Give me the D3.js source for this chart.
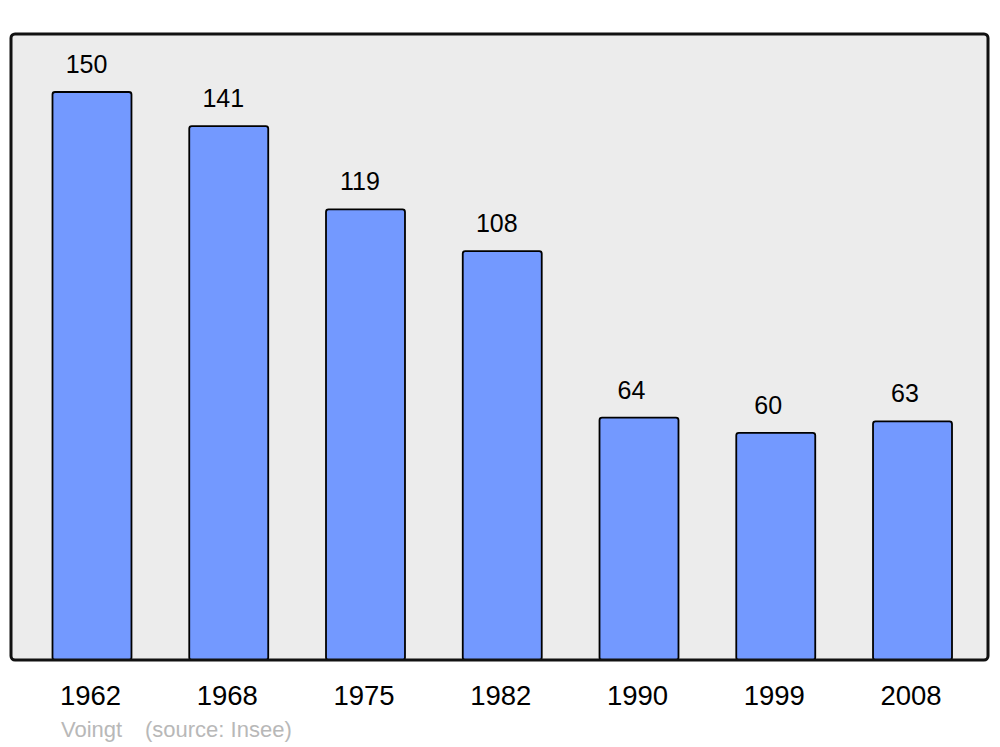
<!DOCTYPE html>
<html>
<head>
<meta charset="utf-8">
<script src="https://cdn.jsdelivr.net/npm/d3@7"></script>
<style>
  html, body { margin: 0; padding: 0; background: #fff; }
  svg { display: block; font-family: "Liberation Sans", Arial, sans-serif; }
</style>
</head>
<body>
<svg id="chart" width="1000" height="747"></svg>
<script>
const years = ["1962", "1968", "1975", "1982", "1990", "1999", "2008"];
const population = [150, 141, 119, 108, 64, 60, 63];
const sourceLabel = ["Voingt", "(source: Insee)"];

const svg = d3.select("#chart");

const panel = { left: 11, top: 34, right: 988, bottom: 660 };

const x = d3.scaleBand()
  .domain(years)
  .range([52.5, 952])
  .paddingInner(0.4225)
  .paddingOuter(0);

const y = d3.scaleLinear()
  .domain([0, 150])
  .range([panel.bottom, 92]);

// background panel
svg.append("rect")
  .attr("x", panel.left)
  .attr("y", panel.top)
  .attr("width", panel.right - panel.left)
  .attr("height", panel.bottom - panel.top)
  .attr("rx", 4).attr("ry", 4)
  .attr("fill", "#ececec");

const data = years.map((yr, i) => ({ year: yr, value: population[i] }));

// bars
svg.append("g").selectAll("rect")
  .data(data)
  .join("rect")
  .attr("x", d => x(d.year))
  .attr("y", d => y(d.value))
  .attr("width", x.bandwidth())
  .attr("height", d => y(0) - y(d.value))
  .attr("rx", 2.5).attr("ry", 2.5)
  .attr("fill", "#7399ff")
  .attr("stroke", "#000")
  .attr("stroke-width", 1.8);

// panel border
svg.append("rect")
  .attr("x", panel.left)
  .attr("y", panel.top)
  .attr("width", panel.right - panel.left)
  .attr("height", panel.bottom - panel.top)
  .attr("rx", 4).attr("ry", 4)
  .attr("fill", "none")
  .attr("stroke", "#111")
  .attr("stroke-width", 3);

// value labels
svg.append("g").selectAll("text")
  .data(data)
  .join("text")
  .attr("x", d => x(d.year) + x.bandwidth() / 2 - (d.value >= 100 ? 5.5 : 7.5))
  .attr("y", d => y(d.value) - 19)
  .attr("text-anchor", "middle")
  .attr("font-size", 25)
  .attr("fill", "#000")
  .text(d => d.value);

// year axis labels
const xAxis = d3.axisBottom(x).tickSize(0).tickPadding(0);
const gx = svg.append("g")
  .attr("transform", `translate(0, ${panel.bottom})`)
  .call(xAxis);
gx.select(".domain").remove();
gx.selectAll("text")
  .attr("dy", null)
  .attr("y", 45)
  .attr("x", -1.5)
  .attr("font-size", 27.5)
  .attr("font-family", "Liberation Sans, Arial, sans-serif")
  .attr("fill", "#000");

// source
svg.append("text")
  .attr("x", 61)
  .attr("y", 737)
  .attr("font-size", 22)
  .attr("fill", "#b8b8b8")
  .text(sourceLabel[0]);
svg.append("text")
  .attr("x", 145)
  .attr("y", 737)
  .attr("font-size", 22)
  .attr("fill", "#b8b8b8")
  .text(sourceLabel[1]);
</script>
</body>
</html>
